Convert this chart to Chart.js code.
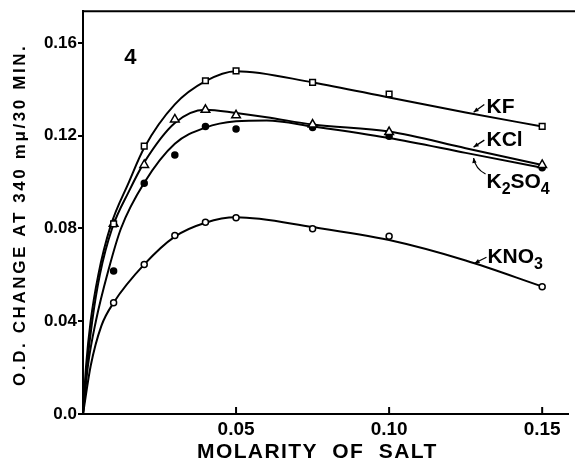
<!DOCTYPE html>
<html><head><meta charset="utf-8">
<script src="https://cdn.jsdelivr.net/npm/chart.js@4"></script>
<style>html,body{margin:0;padding:0;background:#fff}</style>
</head><body>
<canvas id="c" width="575" height="462"></canvas>
<script>
// ---- tick definitions ----
const xTicks = [0.05, 0.10, 0.15];
const xTickLabels = ['0.05', '0.10', '0.15'];
const yTicks = [0, 0.04, 0.08, 0.12, 0.16];
const yTickLabels = ['0.0', '0.04', '0.08', '0.12', '0.16'];

// ---- measured points ----
const kfX   = [0.01, 0.02, 0.04, 0.05, 0.075, 0.10, 0.15];
const kfY   = [0.082, 0.1155, 0.1437, 0.148, 0.143, 0.138, 0.124];
const kclX  = [0.01, 0.02, 0.03, 0.04, 0.05, 0.075, 0.10, 0.15];
const kclY  = [0.082, 0.1074, 0.127, 0.1312, 0.1288, 0.1248, 0.1216, 0.1074];
const k2so4X = [0.01, 0.02, 0.03, 0.04, 0.05, 0.075, 0.10, 0.15];
const k2so4Y = [0.0617, 0.0995, 0.1117, 0.124, 0.1229, 0.1236, 0.1198, 0.1062];
const kno3X = [0.01, 0.02, 0.03, 0.04, 0.05, 0.075, 0.10, 0.15];
const kno3Y = [0.048, 0.0645, 0.077, 0.0827, 0.0846, 0.0799, 0.0766, 0.0549];

// ---- drawn (fitted) curves ----
const curveKfX  = [0, 0.001, 0.0025, 0.005, 0.009, 0.015, 0.02, 0.03, 0.04, 0.05, 0.075, 0.10, 0.125, 0.15];
const curveKfY  = [0, 0.0207, 0.040, 0.060, 0.081, 0.100, 0.1148, 0.1335, 0.1435, 0.1478, 0.143, 0.1365, 0.130, 0.124];
const curveKclX = [0, 0.0013, 0.003, 0.0055, 0.0095, 0.015, 0.02, 0.03, 0.04, 0.05, 0.06, 0.075, 0.10, 0.125, 0.15];
const curveKclY = [0, 0.0207, 0.040, 0.060, 0.080, 0.096, 0.1085, 0.1255, 0.1312, 0.1298, 0.128, 0.1248, 0.1218, 0.1146, 0.1074];
const curveK2so4X = [0, 0.0016, 0.0042, 0.0083, 0.0124, 0.02, 0.03, 0.04, 0.05, 0.06, 0.075, 0.10, 0.125, 0.15];
const curveK2so4Y = [0, 0.0207, 0.040, 0.062, 0.080, 0.0997, 0.1165, 0.1235, 0.1262, 0.1266, 0.1240, 0.1190, 0.1126, 0.1062];
const curveKno3X = [0, 0.0025, 0.006, 0.01, 0.02, 0.03, 0.04, 0.05, 0.075, 0.10, 0.125, 0.15];
const curveKno3Y = [0, 0.0207, 0.038, 0.048, 0.0645, 0.0765, 0.0825, 0.0848, 0.0806, 0.0750, 0.0662, 0.055];

const pts = (xs, ys) => xs.map((x, i) => ({x, y: ys[i]}));
const FONT = 'Liberation Sans';

const markerBase = {showLine: false, borderColor: '#000', borderWidth: 1.5, pointBorderColor: '#000', pointBorderWidth: 1.5};
const curveBase = {showLine: true, borderColor: '#000', borderWidth: 2, pointRadius: 0, fill: false, cubicInterpolationMode: 'monotone'};

const datasets = [
  {...markerBase, label: 'KF pts', data: pts(kfX, kfY), pointStyle: 'rect', pointRadius: 4, pointBackgroundColor: '#fff'},
  {...markerBase, label: 'KCl pts', data: pts(kclX, kclY), pointStyle: 'triangle', pointRadius: 5, pointBackgroundColor: '#fff'},
  {...markerBase, label: 'K2SO4 pts', data: pts(k2so4X, k2so4Y), pointStyle: 'circle', pointRadius: 3, pointBackgroundColor: '#000'},
  {...markerBase, label: 'KNO3 pts', data: pts(kno3X, kno3Y), pointStyle: 'circle', pointRadius: 3, pointBackgroundColor: '#fff'},
  {...curveBase, label: 'KF', data: pts(curveKfX, curveKfY)},
  {...curveBase, label: 'KCl', data: pts(curveKclX, curveKclY)},
  {...curveBase, label: 'K2SO4', data: pts(curveK2so4X, curveK2so4Y)},
  {...curveBase, label: 'KNO3', data: pts(curveKno3X, curveKno3Y)}
];

// annotations in data coordinates
const seriesLabels = [
  {parts: [['K',0],['F',0]], at: [0.1318, 0.1296], lead: [[0.1276, 0.1301], [0.1311, 0.1335]]},
  {parts: [['K',0],['Cl',0]], at: [0.1318, 0.1155], lead: [[0.1276, 0.1151], [0.1311, 0.1181]]},
  {parts: [['K',0],['2',1],['SO',0],['4',1]], at: [0.1318, 0.0975], lead: [[0.1276, 0.1104], [0.1315, 0.1035]], ctrl: [0.1282, 0.1057]},
  {parts: [['KNO',0],['3',1]], at: [0.1321, 0.0650], lead: [[0.1279, 0.0650], [0.1318, 0.0676]]}
];

const deco = {
  id: 'deco',
  afterDraw(chart) {
    const ctx = chart.ctx, a = chart.chartArea, xs = chart.scales.x, ys = chart.scales.y;
    const P = (x, y) => [xs.getPixelForValue(x), ys.getPixelForValue(y)];
    ctx.save();
    ctx.strokeStyle = '#000'; ctx.fillStyle = '#000';
    // top frame line
    ctx.lineWidth = 2;
    ctx.beginPath(); ctx.moveTo(a.left - 1, a.top); ctx.lineTo(chart.width, a.top); ctx.stroke();
    // x tick marks (inside)
    xTicks.forEach(v => {
      const px = xs.getPixelForValue(v);
      ctx.beginPath(); ctx.moveTo(px, a.bottom); ctx.lineTo(px, a.bottom - 7); ctx.stroke();
    });
    // panel number
    ctx.font = `bold 22px "${FONT}"`;
    ctx.textBaseline = 'alphabetic'; ctx.textAlign = 'left';
    let p = P(0.0135, 0.151);
    ctx.fillText('4', p[0], p[1]);
    // series labels
    seriesLabels.forEach(l => {
      let [x, y] = P(l.at[0], l.at[1]);
      l.parts.forEach(([t, sub]) => {
        ctx.font = sub ? `bold 16px "${FONT}"` : `bold 21px "${FONT}"`;
        ctx.fillText(t, x, y + (sub ? 6 : 0));
        x += ctx.measureText(t).width;
      });
      const s = P(l.lead[0][0], l.lead[0][1]), e = P(l.lead[1][0], l.lead[1][1]);
      ctx.lineWidth = 1.3;
      ctx.beginPath(); ctx.moveTo(s[0], s[1]);
      if (l.ctrl) { const c = P(l.ctrl[0], l.ctrl[1]); ctx.quadraticCurveTo(c[0], c[1], e[0], e[1]); }
      else ctx.lineTo(e[0], e[1]);
      ctx.stroke();
      let dx, dy;
      if (l.ctrl) { const c = P(l.ctrl[0], l.ctrl[1]); dx = s[0] - c[0]; dy = s[1] - c[1]; }
      else { dx = s[0] - e[0]; dy = s[1] - e[1]; }
      const L = Math.hypot(dx, dy); dx /= L; dy /= L;
      const hl = 5, hw = 2.2;
      ctx.beginPath();
      ctx.moveTo(s[0], s[1]);
      ctx.lineTo(s[0] - dx * hl - dy * hw, s[1] - dy * hl + dx * hw);
      ctx.lineTo(s[0] - dx * hl + dy * hw, s[1] - dy * hl - dx * hw);
      ctx.closePath(); ctx.fill();
    });
    // axis titles
    ctx.font = `bold 21px "${FONT}"`;
    ctx.letterSpacing = '1.4px';
    ctx.textAlign = 'left'; ctx.textBaseline = 'alphabetic';
    ctx.fillText('MOLARITY  OF  SALT', 197, 458);
    ctx.font = `bold 17px "${FONT}"`;
    ctx.letterSpacing = '2.6px';
    ctx.translate(25, 386);
    ctx.rotate(-Math.PI / 2);
    ctx.fillText('O.D. CHANGE AT 340 mμ/30 MIN.', 0, 0);
    ctx.restore();
  }
};

new Chart(document.getElementById('c'), {
  type: 'scatter',
  data: {datasets},
  options: {
    responsive: false, animation: false, devicePixelRatio: 1,
    layout: {padding: {left: 0, right: 0, top: 9, bottom: 0}},
    plugins: {legend: {display: false}, tooltip: {enabled: false}},
    scales: {
      x: {
        type: 'linear', min: 0, max: 0.1586,
        afterBuildTicks: s => { s.ticks = xTicks.map(v => ({value: v})); },
        afterFit: s => { s.height = 48; },
        grid: {display: true, drawOnChartArea: false, drawTicks: false},
        border: {display: true, color: '#000', width: 2},
        ticks: {padding: 4, color: '#000', maxRotation: 0, autoSkip: false,
          font: {family: FONT, size: 19, weight: 'bold'},
          callback: (v, i) => xTickLabels[i]}
      },
      y: {
        type: 'linear', min: 0, max: 0.1737,
        afterBuildTicks: s => { s.ticks = yTicks.map(v => ({value: v})); },
        afterFit: s => { s.width = 83; },
        grid: {drawOnChartArea: false, drawTicks: true, tickLength: 5, color: '#000', lineWidth: 2},
        border: {display: true, color: '#000', width: 2},
        ticks: {padding: 1, color: '#000', autoSkip: false,
          font: {family: FONT, size: 17, weight: 'bold'},
          callback: (v, i) => yTickLabels[i]}
      }
    }
  },
  plugins: [deco]
});
</script>
</body></html>
